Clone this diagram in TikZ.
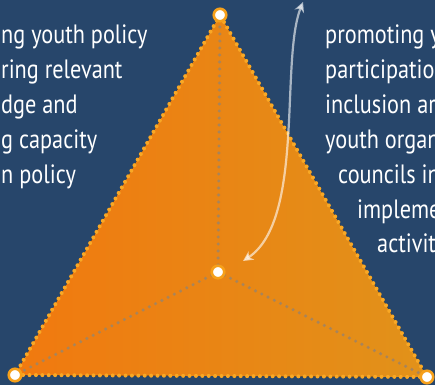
\documentclass[tikz,border=0pt]{standalone}
\usepackage{fontspec}
\setmainfont[FakeStretch=0.84]{PT Sans}
\usetikzlibrary{arrows.meta}

\definecolor{bgblue}{HTML}{27466B}
\definecolor{dotorange}{HTML}{F9A825}
\definecolor{ringorange}{HTML}{F6A01A}
\definecolor{spokegray}{HTML}{A8845A}
\definecolor{fillleft}{HTML}{F1790F}
\definecolor{fillright}{HTML}{E1921A}

\begin{document}
\begin{tikzpicture}[x=1pt, y=-1pt,
		corner/.style={circle, draw=ringorange, fill=white, line width=2.6pt, inner sep=0pt, minimum size=12.5pt},
		rim/.style={dotorange, line width=4pt, line cap=round, dash pattern=on 0pt off 6.4pt},
		spoke/.style={spokegray, line width=3.4pt, line cap=round, dash pattern=on 0pt off 7pt},
		link/.style={white, opacity=0.6, line width=2.2pt, {Stealth[length=10pt,width=10pt,inset=3pt]}-{Stealth[length=10pt,width=10pt,inset=3pt]}},
		txt/.style={anchor=base west, text=white, inner sep=0pt, font=\fontsize{26.5}{30}\selectfont}]
		\fill[bgblue] (0,0) rectangle (435,385);
		\useasboundingbox (0,0) rectangle (435,385);
		\clip (0,0) rectangle (435,385);
		% triangle
		\coordinate (apex) at (220,15);
		\coordinate (left) at (15,375);
		\coordinate (right) at (427,377);
		\coordinate (mid) at (218,272);
		\fill[left color=fillleft, right color=fillright] (apex) -- (left) -- (right) -- cycle;
		\draw[spoke] (mid) -- (apex);
		\draw[spoke] (mid) -- (left);
		\draw[spoke] (mid) -- (right);
		\draw[rim] (apex) -- (left) -- (right) -- cycle;
		\node[corner] (a) at (apex) {};
		\node[corner] (l) at (left) {};
		\node[corner] (r) at (right) {};
		\node[corner] (m) at (mid) {};
		% arrow
		\coordinate (arrtop) at (303,2);
		\coordinate (arrbot) at (243,261);
		\draw[link] (arrtop) .. controls (280,60) and (305,220) .. (arrbot);
		% texts
		\foreach \t [count=\i] in {ng youth policy, ring relevant, dge and, g capacity, n policy}
			\node[txt] (lt\i) at (1,{44+34.8*(\i-1)}) {\t};
		\foreach \x/\t [count=\i] in {325/promoting y, 325/participatio, 325/inclusion ar, 325/youth organ, 338/councils in, 357/impleme, 377/activit}
			\node[txt] (rt\i) at (\x,{44+34.8*(\i-1)}) {\t};
	\end{tikzpicture}
\end{document}
